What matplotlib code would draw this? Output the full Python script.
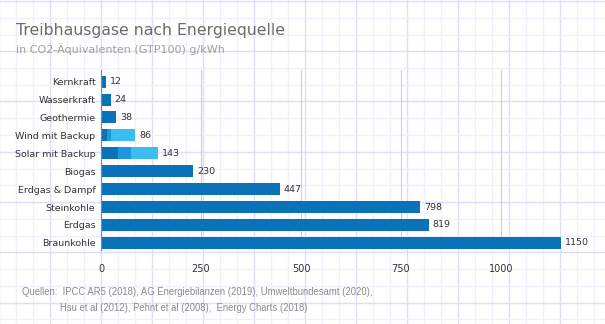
import matplotlib.pyplot as plt
from matplotlib.lines import Line2D

# data (g CO2-eq per kWh)
categories = ["Kernkraft", "Wasserkraft", "Geothermie", "Wind mit Backup",
              "Solar mit Backup", "Biogas", "Erdgas & Dampf", "Steinkohle",
              "Erdgas", "Braunkohle"]
totals = [12, 24, 38, 86, 143, 230, 447, 798, 819, 1150]
# wind and solar are split into three parts (plant, mid part, backup)
part1 = [12, 24, 38, 14, 42, 230, 447, 798, 819, 1150]
part2 = [0, 0, 0, 11, 33, 0, 0, 0, 0, 0]
part3 = [0, 0, 0, 61, 68, 0, 0, 0, 0, 0]
xticks = [0, 250, 500, 750, 1000]

W, H = 605, 324
fig = plt.figure(figsize=(W / 100, H / 100), dpi=100)
fig.patch.set_facecolor("white")

# graph paper in the background
def px_line(x0, y0, x1, y1, color, lw):
    fig.add_artist(Line2D([x0 / W, x1 / W], [1 - y0 / H, 1 - y1 / H],
                          color=color, lw=lw, zorder=0))

k = 0
x = -0.7
while x < W:
    px_line(x, 0, x, H, "#dcdcfb" if k % 3 == 0 else "#f0f0fd", 1.0)
    x += 17.0
    k += 1
k = 0
y = 1.0
while y < H:
    px_line(0, y, W, y, "#dcdcfb" if k % 3 == 0 else "#f0f0fd", 1.0)
    y += 16.75
    k += 1

ax = fig.add_axes([101 / W, 1 - 250 / H, 500 / W, 180 / H])
ax.patch.set_alpha(0)

ypos = list(range(len(categories)))[::-1]
h = 0.67
ax.barh(ypos, part1, height=h, color="#0b72b9", zorder=3)
left2 = [a for a in part1]
ax.barh(ypos, part2, left=left2, height=h, color="#1c96dd", zorder=3)
left3 = [a + b for a, b in zip(part1, part2)]
ax.barh(ypos, part3, left=left3, height=h, color="#3cbdf2", zorder=3)

for yp, v in zip(ypos, totals):
    ax.annotate(str(v), (v, yp), xytext=(3, 0), textcoords="offset points",
                va="center", ha="left", fontsize=6.8, color="#333333")

ax.set_xlim(0, 1250)
ax.set_ylim(-0.4, 9.65)
ax.set_yticks(ypos)
ax.set_yticklabels(categories, fontsize=6.8, color="#333333")
ax.set_xticks(xticks)
ax.set_xticklabels([str(t) for t in xticks], fontsize=7, color="#333333")
ax.tick_params(length=0, pad=4)
ax.tick_params(axis="x", pad=10)
for t in xticks[1:]:
    ax.axvline(t, color="#cfcfcf", lw=0.8, zorder=1)
for s in ["top", "right", "bottom"]:
    ax.spines[s].set_visible(False)
ax.spines["left"].set_color("#888888")
ax.spines["left"].set_zorder(4)

fig.text(16 / W, 1 - 31 / H, "Treibhausgase nach Energiequelle",
         fontsize=11.3, color="#6b6b6b", va="center", ha="left")
fig.text(16 / W, 1 - 49 / H, "in CO2-Äquivalenten (GTP100) g/kWh",
         fontsize=8, color="#a0a0a0", va="center", ha="left")
fig.text(22 / W, 1 - 292 / H,
         "Quellen:  IPCC AR5 (2018), AG Energiebilanzen (2019), Umweltbundesamt (2020),",
         fontsize=6.85, color="#8a8a8a", va="center", ha="left",
         family="Liberation Sans")
fig.text(60 / W, 1 - 308 / H,
         "Hsu et al (2012), Pehnt et al (2008),  Energy Charts (2018)",
         fontsize=6.85, color="#8a8a8a", va="center", ha="left",
         family="Liberation Sans")

fig.savefig("out.png", dpi=100)
